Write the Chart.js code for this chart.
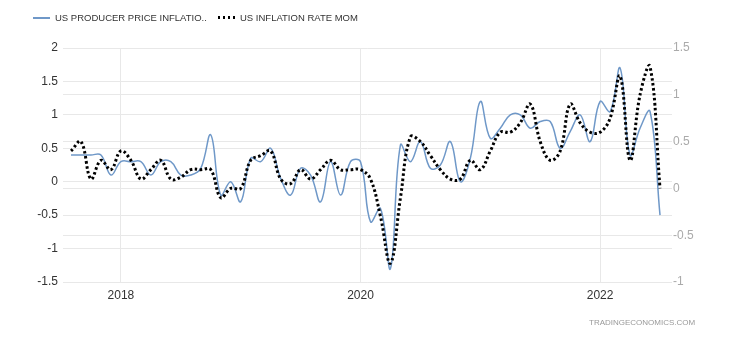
<!DOCTYPE html>
<html>
<head>
<meta charset="utf-8">
<script src="https://cdn.jsdelivr.net/npm/chart.js@4/dist/chart.umd.min.js"></script>
<style>
html,body{margin:0;padding:0;background:#fff;}
#wrap{position:relative;width:752px;height:341px;overflow:hidden;}
#c{position:absolute;left:0;top:0;}
.legtxt{position:absolute;top:12px;font-family:"Liberation Sans",Arial,sans-serif;font-size:9.5px;line-height:12px;color:#333;white-space:nowrap;}
.sym1{position:absolute;left:33px;top:17px;width:17px;height:2px;background:#6f98c8;}
.sym2{position:absolute;left:218px;top:16px;width:17px;height:3px;background:repeating-linear-gradient(to right,#000 0 2.5px,transparent 2.5px 5px);}
#wm{position:absolute;left:589px;top:318px;font-family:"Liberation Sans",Arial,sans-serif;font-size:8px;color:#999;white-space:nowrap;}
</style>
</head>
<body>
<div id="wrap">
<canvas id="c" width="752" height="341"></canvas>
<div class="sym1"></div><div class="legtxt" style="left:55px">US PRODUCER PRICE INFLATIO..</div>
<div class="sym2"></div><div class="legtxt" style="left:240px">US INFLATION RATE MOM</div>
<div id="wm">TRADINGECONOMICS.COM</div>
</div>
<script>
// Monthly categories (Aug 2017 - Jul 2022)
const months = [
 '2017-08','2017-09','2017-10','2017-11','2017-12',
 '2018-01','2018-02','2018-03','2018-04','2018-05','2018-06','2018-07','2018-08','2018-09','2018-10','2018-11','2018-12',
 '2019-01','2019-02','2019-03','2019-04','2019-05','2019-06','2019-07','2019-08','2019-09','2019-10','2019-11','2019-12',
 '2020-01','2020-02','2020-03','2020-04','2020-05','2020-06','2020-07','2020-08','2020-09','2020-10','2020-11','2020-12',
 '2021-01','2021-02','2021-03','2021-04','2021-05','2021-06','2021-07','2021-08','2021-09','2021-10','2021-11','2021-12',
 '2022-01','2022-02','2022-03','2022-04','2022-05','2022-06','2022-07'
];
// US Producer Price Inflation MoM (left axis)
const ppi = [
 0.4,0.4,0.4,0.4,0.1,
 0.3,0.3,0.3,0.1,0.3,0.3,0.1,0.1,0.2,0.7,-0.2,0.0,
 -0.3,0.35,0.3,0.5,0.05,-0.2,0.2,0.1,-0.3,0.3,-0.2,0.3,
 0.3,-0.6,-0.4,-1.3,0.55,0.3,0.6,0.2,0.25,0.6,0.0,0.35,
 1.2,0.65,0.8,1.0,1.0,0.8,0.9,0.9,0.5,0.75,1.0,0.6,
 1.2,1.05,1.7,0.4,0.8,1.05,-0.5
];
// US Inflation Rate MoM (right axis)
const cpi = [
 0.4,0.5,0.1,0.3,0.2,
 0.4,0.3,0.1,0.2,0.3,0.1,0.12,0.2,0.2,0.2,-0.1,0.0,
 0.0,0.3,0.35,0.4,0.1,0.05,0.2,0.1,0.2,0.3,0.2,0.2,
 0.2,0.1,-0.3,-0.8,-0.1,0.55,0.5,0.35,0.2,0.1,0.1,0.3,
 0.2,0.4,0.6,0.6,0.7,0.9,0.5,0.3,0.4,0.9,0.7,0.6,
 0.6,0.75,1.2,0.3,1.0,1.3,0.0
];
const yearTicks = ['2018','2020','2022'];
const seriesNames = ['US PRODUCER PRICE INFLATIO..','US INFLATION RATE MOM'];

const tickPos = yearTicks.map(y => months.indexOf(y + '-01'));
const FONT = '"Liberation Sans", Arial, sans-serif';
const fmt = v => String(Math.round(v * 100) / 100);

new Chart(document.getElementById('c').getContext('2d'), {
  type: 'line',
  data: {
    datasets: [
      {
        label: seriesNames[0],
        data: ppi.map((v, i) => ({x: i, y: v})),
        yAxisID: 'yL',
        borderColor: '#6f98c8',
        borderWidth: 1.5,
        pointRadius: 0,
        tension: 0.4,
        fill: false,
        order: 2
      },
      {
        label: seriesNames[1],
        data: cpi.map((v, i) => ({x: i, y: v})),
        yAxisID: 'yR',
        borderColor: '#000000',
        borderWidth: 3,
        borderDash: [2.5, 2.5],
        pointRadius: 0,
        tension: 0.4,
        fill: false,
        order: 1
      }
    ]
  },
  options: {
    responsive: false,
    animation: false,
    layout: {padding: {left: 22, right: 40, top: 48, bottom: 29}},
    plugins: {legend: {display: false}, tooltip: {enabled: false}},
    scales: {
      x: {
        type: 'linear',
        min: -0.8,
        max: 60.2,
        afterBuildTicks: s => { s.ticks = tickPos.map(v => ({value: v})); },
        afterFit: s => { s.height = 30; },
        ticks: {
          autoSkip: false,
          maxRotation: 0,
          padding: 6,
          color: '#333',
          font: {family: FONT, size: 12},
          callback: v => yearTicks[tickPos.indexOf(v)]
        },
        grid: {color: '#e8e8e8', drawTicks: false},
        border: {display: false}
      },
      yL: {
        position: 'left',
        min: -1.5,
        max: 2,
        afterFit: s => { s.width = 41; },
        ticks: {stepSize: 0.5, padding: 5, color: '#333', font: {family: FONT, size: 12}, callback: fmt},
        grid: {color: '#e8e8e8', drawTicks: false},
        border: {display: false}
      },
      yR: {
        position: 'right',
        min: -1,
        max: 1.5,
        afterFit: s => { s.width = 40; },
        ticks: {stepSize: 0.5, padding: 1, color: '#aaa', font: {family: FONT, size: 12}, callback: fmt},
        grid: {color: '#e8e8e8', drawTicks: false},
        border: {display: false}
      }
    }
  }
});
</script>
</body>
</html>
